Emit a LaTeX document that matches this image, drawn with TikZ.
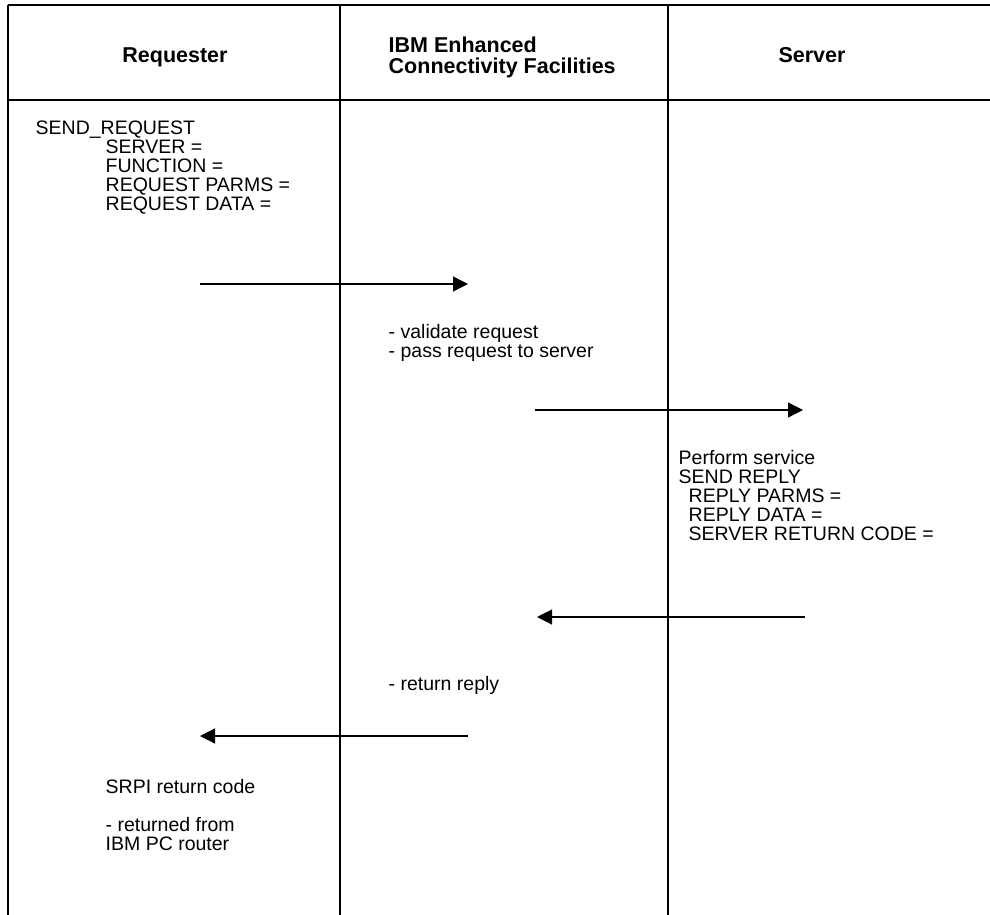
\documentclass[tikz,border=0pt]{standalone}
\usepackage{fontspec}
\setmainfont{Liberation Sans}
\usetikzlibrary{arrows.meta}

\begin{document}
\begin{tikzpicture}
      [
        x=1pt, y=-1pt,
        line width=1.4pt,
        LaneHead/.style={font=\fontsize{21.5}{21}\selectfont\bfseries, inner sep=0pt, align=left},
        StepText/.style={font=\fontsize{19.5}{19}\selectfont, anchor=base west, inner sep=0pt, align=left},
        Msg/.style={line width=1.2pt, -{Triangle[length=15pt, width=15pt]}},
      ]

      \useasboundingbox (0,0) rectangle (990,915);

      % swimlane frame
      \draw (8,5) -- (990,5);
      \draw (8,100) -- (990,100);
      \draw (8,5) -- (8,915);
      \draw (340,5) -- (340,915);
      \draw (668,5) -- (668,915);

      % multi-line nodes sit on the baseline of their last line
      \node [LaneHead, anchor=base] (req) at (175,63) {Requester};
      \node [LaneHead, anchor=base west] (ecf) at (388,74) {IBM Enhanced\\Connectivity Facilities};
      \node [LaneHead, anchor=base] (srv) at (812,63) {Server};

      \node [StepText] (sendreq) at (35,210)
        {SEND\_REQUEST\\
         \hspace*{70pt}SERVER =\\
         \hspace*{70pt}FUNCTION =\\
         \hspace*{70pt}REQUEST PARMS =\\
         \hspace*{70pt}REQUEST DATA =};
      \node [StepText] (validate) at (388,357) {- validate request\\- pass request to server};
      \node [StepText] (perform) at (678,540)
        {Perform service\\
         SEND REPLY\\
         \hspace*{10pt}REPLY PARMS =\\
         \hspace*{10pt}REPLY DATA =\\
         \hspace*{10pt}SERVER RETURN CODE =};
      \node [StepText] (retreply) at (388,690) {- return reply};
      \node [StepText] (srpi) at (105,850) {SRPI return code\\[19pt]- returned from\\IBM PC router};

      \coordinate (reqout) at (200,284);
      \coordinate (ecfin) at (468,284);
      \coordinate (ecfout) at (535,410);
      \coordinate (srvin) at (803,410);
      \coordinate (srvout) at (805,617);
      \coordinate (ecfback) at (537,617);
      \coordinate (ecfret) at (468,736);
      \coordinate (reqin) at (200,736);

      \draw [Msg] (reqout) -- (ecfin);
      \draw [Msg] (ecfout) -- (srvin);
      \draw [Msg] (srvout) -- (ecfback);
      \draw [Msg] (ecfret) -- (reqin);
\end{tikzpicture}
\end{document}
